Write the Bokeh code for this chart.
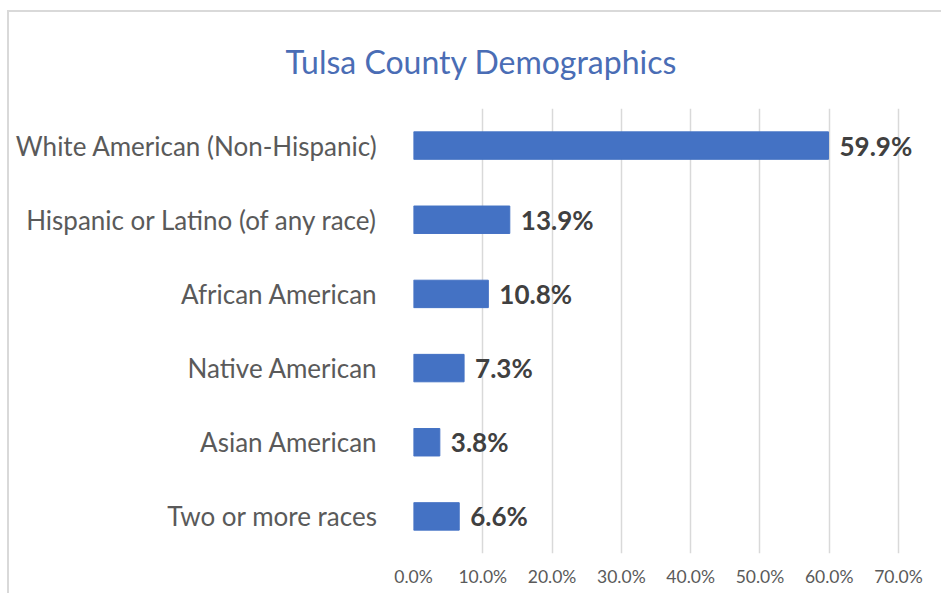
from bokeh.plotting import figure
from bokeh.models import ColumnDataSource, FactorRange, Range1d, FixedTicker, LabelSet, CustomJSTickFormatter
from bokeh.core.properties import value
from bokeh.embed import file_html
from bokeh.resources import INLINE

categories = ["White American (Non-Hispanic)", "Hispanic or Latino (of any race)", "African American",
              "Native American", "Asian American", "Two or more races"]
values = [59.9, 13.9, 10.8, 7.3, 3.8, 6.6]
tick_values = [0, 10, 20, 30, 40, 50, 60, 70]
labels = [f"{v:.1f}%" for v in values]

src = ColumnDataSource(dict(cat=categories, val=values, lab=labels))

FONT = "Lato"
MX, MY, BW = 7, 10, 2     # chart box offset in the window, border width
W, H = 943 - MX - BW, 595 - MY - BW
FL, FR, FT, FB = 413 - MX - BW, 932 - MX - BW, 106 - MY - BW, 553 - MY - BW  # frame edges in canvas pixels
PX_PER_UNIT = (898 - 413) / 70.0
x_end = (FR - FL) / PX_PER_UNIT

p = figure(width=W, height=H, output_backend="svg", toolbar_location=None,
           y_range=FactorRange(*reversed(categories)), x_range=Range1d(0, x_end),
           min_border_left=FL, min_border_right=W - FR, min_border_top=FT, min_border_bottom=H - FB)
p.margin = (MY, 0, 0, MX)
p.outline_line_color = None
p.hbar(y="cat", right="val", height=0.37, source=src, color="#4472C4")

p.add_layout(LabelSet(x="val", y="cat", text="lab", source=src, x_offset=11, y_offset=0,
                      text_baseline="middle", text_font=value(FONT), text_font_size="26px",
                      text_font_style="bold", text_color="#404040"))

p.ygrid.grid_line_color = None
p.xgrid.grid_line_color = "#d9d9d9"
p.xgrid.grid_line_width = 1.5
p.xgrid.ticker = FixedTicker(ticks=tick_values)
p.xaxis.ticker = FixedTicker(ticks=tick_values)
p.xaxis.formatter = CustomJSTickFormatter(code="return tick.toFixed(1) + '%';")
for ax in (p.xaxis, p.yaxis):
    ax.axis_line_color = None
    ax.major_tick_line_color = None
    ax.minor_tick_line_color = None
    ax.major_label_text_font = FONT
    ax.major_label_text_color = "#5a5a5a"
p.xaxis.major_label_text_font_size = "17.5px"
p.xaxis.major_label_standoff = 6
p.yaxis.major_label_text_font_size = "26px"
p.yaxis.major_label_standoff = 30

p.title.text = "Tulsa County Demographics"
p.title.align = "left"
p.title.offset = 285 - 413
p.title.text_font = FONT
p.title.text_font_size = "32px"
p.title.text_font_style = "normal"
p.title.text_color = "#4A6DB5"
p.title.standoff = 55

p.styles = {"border-top": f"{BW}px solid #d9d9d9", "border-left": f"{BW}px solid #d9d9d9"}

open("out.html", "w").write(file_html(p, INLINE))
